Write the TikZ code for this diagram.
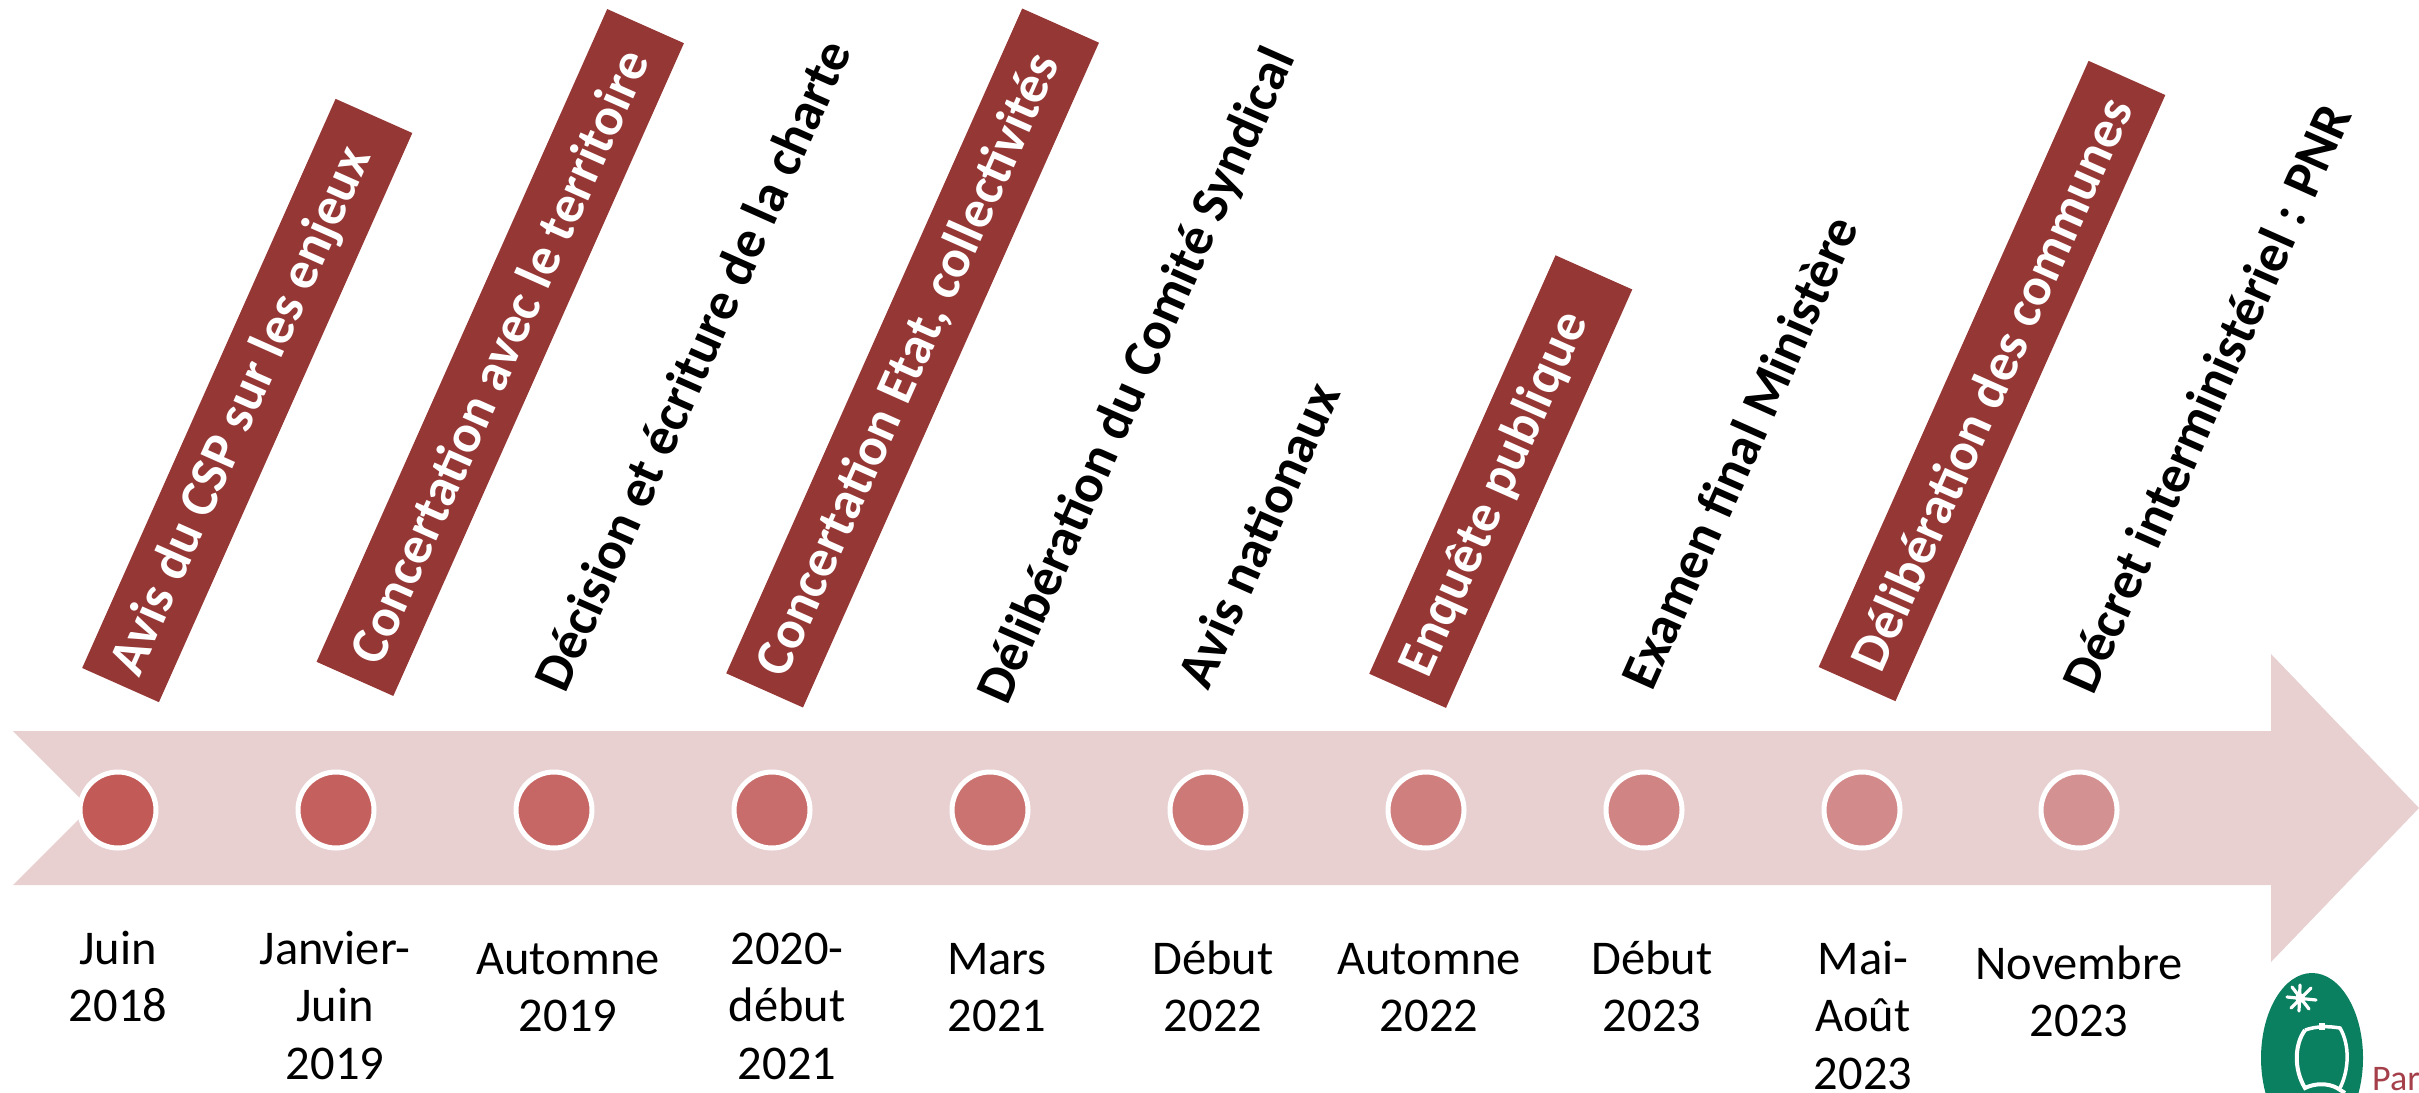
\documentclass[tikz,border=0pt]{standalone}
\usepackage{fontspec}
\setmainfont{Carlito}
\definecolor{boxred}{HTML}{953735}
\definecolor{bandpink}{HTML}{E8D0D1}
\definecolor{dotstart}{HTML}{C25B58}
\definecolor{dotend}{HTML}{D49191}
\definecolor{logogreen}{HTML}{0A8060}
\definecolor{logored}{HTML}{A5404A}
\newcommand{\firstline}{\rule{0pt}{40pt}}
\newcommand{\tostart}[1]{\hspace*{#1}}
\tikzset{
  x=1pt,y=-1pt,
  band/.style={fill=bandpink,draw=none},
  redbox/.style={rotate=66,fill=boxred,text=white,font=\fontsize{53.5}{60}\selectfont\bfseries,minimum height=84pt,inner sep=0pt,outer sep=0pt},
  plain/.style={rotate=66,text=black,font=\fontsize{53.5}{60}\selectfont\bfseries,inner sep=0pt},
  dot/.style={circle,draw=white,line width=5pt,minimum size=76pt,inner sep=0pt,outer sep=0pt},
  datelabel/.style={anchor=north,align=center,inner sep=0pt,font=\fontsize{48.5}{57.5}\selectfont},
}
\begin{document}
\begin{tikzpicture}
\useasboundingbox (0,0) rectangle (2419,1092);
\path[fill=white] (0,0) rectangle (2419,1092);
\path[band] (13,731) -- (2271,731) -- (2271,654) -- (2419,808) -- (2271,962) -- (2271,885) -- (13,885) -- (90,808) -- cycle;
% dots
\node[dot,fill=dotend!0!dotstart]  (d1)  at (118,810)  {};
\node[dot,fill=dotend!11!dotstart] (d2)  at (336,810)  {};
\node[dot,fill=dotend!22!dotstart] (d3)  at (554,810)  {};
\node[dot,fill=dotend!33!dotstart] (d4)  at (772,810)  {};
\node[dot,fill=dotend!44!dotstart] (d5)  at (990,810)  {};
\node[dot,fill=dotend!55!dotstart] (d6)  at (1208,810) {};
\node[dot,fill=dotend!66!dotstart] (d7)  at (1426,810) {};
\node[dot,fill=dotend!77!dotstart] (d8)  at (1644,810) {};
\node[dot,fill=dotend!88!dotstart] (d9)  at (1862,810) {};
\node[dot,fill=dotend!100!dotstart] (d10) at (2079,810) {};
% rotated labels
\node[redbox,minimum width=623pt]   (e1)  at (247.25,400.5) {Avis du CSP sur les enjeux\tostart{24pt}};
\node[redbox,minimum width=714.5pt] (e2)  at (500.25,352.5) {Concertation avec le territoire\tostart{8pt}};
\node[plain]                        (e3)  at (692,365)      {Décision et écriture de la charte};
\node[redbox,minimum width=727.7pt] (e4)  at (912.6,358)    {Concertation Etat, collectivités\tostart{16pt}};
\node[plain]                        (e5)  at (1138,376)     {Délibération du Comité Syndical};
\node[plain]                        (e6)  at (1258,535)     {Avis nationaux};
\node[redbox,minimum width=458pt]   (e7)  at (1500.75,481.6) {Enquête publique\tostart{28pt}};
\node[plain]                        (e8)  at (1739,452)     {Examen final Ministère};
\node[redbox,minimum width=663.5pt] (e9)  at (1992,381)     {Délibération des communes\tostart{6pt}};
\node[plain]                        (e10) at (2206,398)     {Décret interministériel : PNR};
% dates
\node[datelabel] (t1)  at (118,924)  {\firstline Juin\\2018};
\node[datelabel] (t2)  at (335,924)  {\firstline Janvier-\\Juin\\2019};
\node[datelabel] (t3)  at (568,934)  {\firstline Automne\\2019};
\node[datelabel] (t4)  at (787,924)  {\firstline 2020-\\début\\2021};
\node[datelabel] (t5)  at (997,934)  {\firstline Mars\\2021};
\node[datelabel] (t6)  at (1213,934) {\firstline Début\\2022};
\node[datelabel] (t7)  at (1429,934) {\firstline Automne\\2022};
\node[datelabel] (t8)  at (1652,934) {\firstline Début\\2023};
\node[datelabel] (t9)  at (1863,934) {\firstline Mai-\\Août\\2023};
\node[datelabel] (t10) at (2079,939) {\firstline Novembre\\2023};
% logo
\begin{scope}
\clip (0,0) rectangle (2419,1092);
\fill[logogreen] (2312,1058) ellipse [x radius=51, y radius=85];
\draw[white,line width=3.2pt,line cap=round]
  (2287,997) -- (2316,1000) (2292,987) -- (2309,1009) (2311,988) -- (2291,1008)
  (2300,985) -- (2299,1011);
\fill[white] (2300,998) circle [radius=5];
\draw[white,line width=4pt]
  (2305,1030) .. controls (2294,1045) and (2294,1070) .. (2305,1088)
  .. controls (2315,1083) and (2328,1083) .. (2337,1088) -- (2345,1093);
\draw[white,line width=3.5pt]
  (2305,1030) .. controls (2317,1026) and (2328,1026) .. (2340,1028)
  .. controls (2350,1045) and (2349,1070) .. (2340,1088);
\fill[white] (2319,1023) rectangle (2325,1030);
\node[anchor=base west,inner sep=0pt,text=logored,font=\fontsize{36}{40}\selectfont] (parc) at (2372,1090) {Parc};
\end{scope}
\end{tikzpicture}
\end{document}
